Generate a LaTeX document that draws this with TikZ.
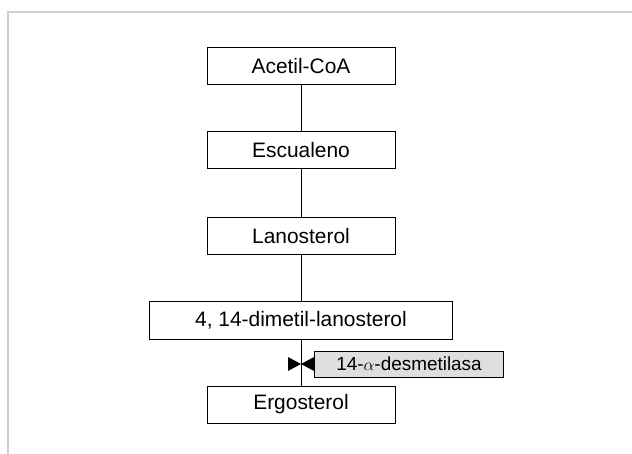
\documentclass[tikz,border=0pt]{standalone}
\usepackage{fontspec}
\setmainfont{Liberation Sans}
\usepackage{tikz}
\usetikzlibrary{positioning}
\definecolor{framegray}{RGB}{208, 208, 208}
\definecolor{enzgray}{RGB}{222, 222, 222}

\tikzset{
  paso/.style={draw, line width=1bp, minimum width=188bp, minimum height=37bp,
    inner sep=0pt, font=\fontsize{21}{24}\selectfont},
  enzima/.style={draw, fill=enzgray, line width=1bp, minimum width=189bp,
    minimum height=26bp, inner sep=0pt, font=\fontsize{19}{22}\selectfont},
  freno/.style={fill=black}
}

\begin{document}
\begin{tikzpicture}[x=1bp, y=-1bp]
\useasboundingbox (0,0) rectangle (632,454);
% marco
\draw[framegray, line width=2.5bp] (8,454) -- (8,12) -- (632,12);
% ruta
\node[paso] (acetil) at (301,66.5) {Acetil-CoA};
\node[paso] (escualeno) at (301,150.5) {Escualeno};
\node[paso] (lanosterol) at (301,236) {Lanosterol};
\node[paso, minimum width=303bp] (dimetil) at (301,320.5) {4, 14-dimetil-lanosterol};
\node[paso] (ergosterol) at (301,404.5) {Ergosterol};
\draw[line width=1bp] (acetil) -- (escualeno);
\draw[line width=1bp] (escualeno) -- (lanosterol);
\draw[line width=1bp] (lanosterol) -- (dimetil);
\draw[line width=1bp] (dimetil) -- (ergosterol);
% inhibicion
\coordinate (bloqueo) at (301,364);
\fill[freno] (bloqueo) -- ++(-13,-7) -- ++(0,14) -- cycle;
\fill[freno] (bloqueo) -- ++(13,-7) -- ++(0,14) -- cycle;
\node[enzima, anchor=west] (desmetilasa) at ([xshift=13bp]bloqueo) {14-$\alpha$-desmetilasa};
\end{tikzpicture}
\end{document}
